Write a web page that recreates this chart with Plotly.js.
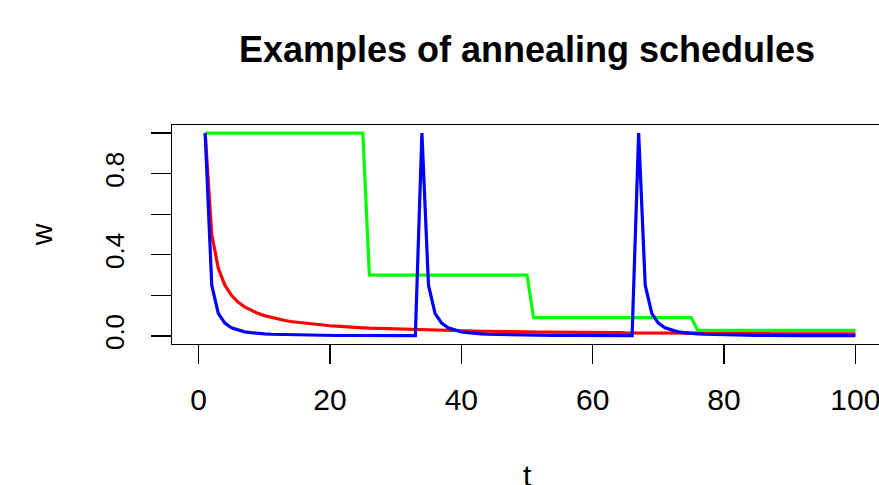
<!DOCTYPE html>
<html>
<head>
<meta charset="utf-8">
<script src="https://cdn.plot.ly/plotly-3.0.1.min.js"></script>
<style>
html, body { margin: 0; padding: 0; overflow: hidden; background: #ffffff; }
#chart { width: 885px; height: 485px; }
</style>
</head>
<body>
<div id="chart"></div>
<script>
const t = [1,2,3,4,5,6,7,8,9,10,11,12,13,14,15,16,17,18,19,20,
  21,22,23,24,25,26,27,28,29,30,31,32,33,34,35,36,37,38,39,40,
  41,42,43,44,45,46,47,48,49,50,51,52,53,54,55,56,57,58,59,60,
  61,62,63,64,65,66,67,68,69,70,71,72,73,74,75,76,77,78,79,80,
  81,82,83,84,85,86,87,88,89,90,91,92,93,94,95,96,97,98,99,100];

const redW = [1,0.5,0.333,0.25,0.2,0.167,0.143,0.125,0.111,0.1,
  0.091,0.083,0.077,0.071,0.067,0.063,0.059,0.056,0.053,0.05,
  0.048,0.045,0.043,0.042,0.04,0.038,0.037,0.036,0.034,0.033,
  0.032,0.031,0.03,0.029,0.029,0.028,0.027,0.026,0.026,0.025,
  0.024,0.024,0.023,0.023,0.022,0.022,0.021,0.021,0.02,0.02,
  0.02,0.019,0.019,0.019,0.018,0.018,0.018,0.017,0.017,0.017,
  0.016,0.016,0.016,0.016,0.015,0.015,0.015,0.015,0.014,0.014,
  0.014,0.014,0.014,0.014,0.013,0.013,0.013,0.013,0.013,0.013,
  0.012,0.012,0.012,0.012,0.012,0.012,0.011,0.011,0.011,0.011,
  0.011,0.011,0.011,0.011,0.011,0.01,0.01,0.01,0.01,0.01];

const greenW = [1,1,1,1,1,1,1,1,1,1,1,1,1,1,1,1,1,1,1,1,1,1,1,1,1,
  0.3,0.3,0.3,0.3,0.3,0.3,0.3,0.3,0.3,0.3,0.3,0.3,0.3,0.3,0.3,0.3,0.3,0.3,0.3,0.3,0.3,0.3,0.3,0.3,0.3,
  0.09,0.09,0.09,0.09,0.09,0.09,0.09,0.09,0.09,0.09,0.09,0.09,0.09,0.09,0.09,0.09,0.09,0.09,0.09,0.09,0.09,0.09,0.09,0.09,0.09,
  0.027,0.027,0.027,0.027,0.027,0.027,0.027,0.027,0.027,0.027,0.027,0.027,0.027,0.027,0.027,0.027,0.027,0.027,0.027,0.027,0.027,0.027,0.027,0.027,0.027];

const blueW = [1,0.25,0.111,0.063,0.04,0.028,0.02,0.016,0.012,0.01,
  0.008,0.007,0.006,0.005,0.004,0.004,0.003,0.003,0.003,0.003,
  0.002,0.002,0.002,0.002,0.002,0.001,0.001,0.001,0.001,0.001,
  0.001,0.001,0.001,
  1,0.25,0.111,0.063,0.04,0.028,0.02,0.016,0.012,0.01,
  0.008,0.007,0.006,0.005,0.004,0.004,0.003,0.003,0.003,0.003,
  0.002,0.002,0.002,0.002,0.002,0.001,0.001,0.001,0.001,0.001,
  0.001,0.001,0.001,
  1,0.25,0.111,0.063,0.04,0.028,0.02,0.016,0.012,0.01,
  0.008,0.007,0.006,0.005,0.004,0.004,0.003,0.003,0.003,0.003,
  0.002,0.002,0.002,0.002,0.002,0.001,0.001,0.001,0.001,0.001,
  0.001,0.001,0.001,0.001];

const xTicks = [0,20,40,60,80,100];
const xTickText = ["0","20","40","60","80","100"];
const yTicks = [0,0.2,0.4,0.6,0.8,1.0];
const yTickText = ["0.0","","0.4","","0.8",""];

const traces = [
  {x: t, y: redW, type: 'scatter', mode: 'lines', line: {color: '#ff0000', width: 3.2}, name: 'red'},
  {x: t, y: greenW, type: 'scatter', mode: 'lines', line: {color: '#00ff00', width: 3.2}, name: 'green'},
  {x: t, y: blueW, type: 'scatter', mode: 'lines', line: {color: '#0000ff', width: 3.2}, name: 'blue'}
];

const layout = {
  width: 885, height: 485,
  margin: {l: 172, r: 3, t: 125, b: 141},
  paper_bgcolor: '#ffffff', plot_bgcolor: '#ffffff',
  showlegend: false,
  font: {family: '"Liberation Sans", Arial, sans-serif', color: '#000000'},
  title: {
    text: 'Examples of annealing schedules',
    font: {family: '"Liberation Sans", Arial, sans-serif', size: 36, weight: 'bold', color: '#000000'},
    x: 0.5, xref: 'paper', xanchor: 'center',
    y: 1 - 49/485, yref: 'container', yanchor: 'middle'
  },
  xaxis: {
    range: [-4.05, 104.05], autorange: false,
    tickvals: xTicks, ticktext: xTickText,
    ticks: 'outside', ticklen: 19, tickwidth: 1.3, tickcolor: '#000000',
    showline: true, mirror: true, linecolor: '#000000', linewidth: 1.3,
    showgrid: false, zeroline: false,
    tickfont: {size: 30, family: '"Liberation Sans", Arial, sans-serif'},
    ticklabelstandoff: 10
  },
  yaxis: {
    range: [-0.04, 1.04], autorange: false,
    tickvals: yTicks, ticktext: yTickText,
    ticks: 'outside', ticklen: 20, tickwidth: 1.3, tickcolor: '#000000',
    showline: true, mirror: true, linecolor: '#000000', linewidth: 1.3,
    showgrid: false, zeroline: false,
    tickangle: -90,
    tickfont: {size: 26, family: '"Liberation Sans", Arial, sans-serif'},
    ticklabelstandoff: 16,
    title: {text: 'w', font: {size: 30}, standoff: 38}
  },
  annotations: [{
    text: 't', showarrow: false,
    xref: 'paper', yref: 'paper', x: 0.5, y: -0.685,
    xanchor: 'center', yanchor: 'bottom',
    font: {size: 30, family: '"Liberation Sans", Arial, sans-serif', color: '#000000'}
  }]
};

Plotly.newPlot('chart', traces, layout, {displayModeBar: false, staticPlot: true});
</script>
</body>
</html>
